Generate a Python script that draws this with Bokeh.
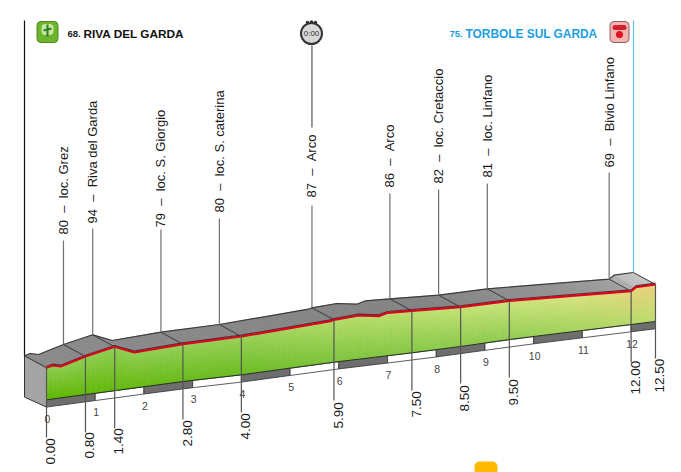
import math
import numpy as np
from bokeh.plotting import figure
from bokeh.core.properties import value
from bokeh.embed import file_html
from bokeh.resources import INLINE

# ---- chart data ----
profile_km = [0, 0.12, 0.29, 0.80, 1.40, 1.80, 2.80, 4.00, 5.83, 5.90, 6.41, 6.82, 7.00, 7.50, 8.50, 9.50, 12.00, 12.10, 12.50]
profile_h = [104.7, 107, 106, 116, 125.7, 120, 128.3, 136, 151.3, 152.7, 157, 156.3, 159.7, 161.7, 165.3, 171.7, 181.3, 185.3, 188]
base_km = [0, 2.8, 4.0, 5.9, 7.5, 8.5, 9.5, 11.0, 12.5]
base_h = [72.7, 91, 97.7, 110.3, 119.7, 126, 133, 142, 151]
way_km = [0.80, 1.40, 2.80, 4.00, 5.90, 7.50, 8.50, 9.50, 12.00]
way_alt = [80, 94, 79, 80, 87, 86, 82, 81, 69]
way_name = ["loc. Grez", "Riva del Garda", "loc. S. Giorgio", "loc. S. caterina", "Arco", "Arco",
            "loc. Cretaccio", "loc. Linfano", "Bivio Linfano"]
km_marks = [0.00, 0.80, 1.40, 2.80, 4.00, 5.90, 7.50, 8.50, 9.50, 12.00, 12.50]
km_ticks = list(range(13))
start_no, start_name = "68.", "RIVA DEL GARDA"
end_no, end_name = "75.", "TORBOLE SUL GARDA"

# ---- layout ----
PX = 48.72
X0 = 46
W, H = 681, 472
OFF = 0
def kx(px):
    return (px - X0) / PX
def hy(py):
    return 472 - py
stem_top = [240, 228, 229, 218, 205, 193, 189, 183, 172]
label_bot = [234, 223, 227, 212, 197, 187, 183, 177, 167]
mark_len = [437, 432, 428, 419, 412, 400, 390, 383, 377, 362, 358]
mark_txt_bot = [464, 458, 454, 446, 439, 428, 417, 411, 405, 394, 392]
DK, DH = 22 / PX, 12     # depth offset of the back of the road slab
STRIP = 7.3

p = figure(width=W, height=H, x_range=(kx(OFF), kx(OFF + W)), y_range=(hy(OFF + H), hy(OFF)),
           output_backend="svg", toolbar_location=None, min_border=0,
           outline_line_color=None, background_fill_color="white", border_fill_color="white")
p.axis.visible = False
p.grid.visible = False

prof_k = np.array(profile_km, float)
prof_h = np.array(profile_h, float)
def front(k):
    return np.interp(k, prof_k, prof_h)
def base(k):
    return np.interp(k, base_km, base_h)
def hexmix(stops, k):
    ks = [s[0] for s in stops]
    r = np.interp(k, ks, [int(s[1][1:3], 16) for s in stops])
    g = np.interp(k, ks, [int(s[1][3:5], 16) for s in stops])
    b = np.interp(k, ks, [int(s[1][5:7], 16) for s in stops])
    return np.array([r, g, b])
def css(c):
    return "#%02x%02x%02x" % tuple(int(round(v)) for v in c)

# strip below the green area
for k in range(13):
    k1 = min(k + 1, 12.5)
    xs = [k, k1, k1, k]
    ys = [base(k), base(k1), base(k1) - STRIP, base(k) - STRIP]
    dark = k % 2 == 0
    p.patch(xs, ys, fill_color="#6e6e6e" if dark else "#ffffff", line_color="#333333", line_width=0.8)

# green gradient body
top_stops = [(0, "#8ccc50"), (4, "#98d058"), (6, "#b4dc68"), (9.5, "#cce47c"), (11, "#d8e27e"), (12.5, "#ead07c")]
bot_stops = [(0, "#5fb700"), (4, "#6abc20"), (6, "#7cc43c"), (9.5, "#90cc50"), (12.5, "#bcdc6c")]
edges = sorted(set(np.round(np.arange(0, 12.5, 0.1), 3).tolist() + [12.5] + profile_km))
NB = 14
gx, gy, gc = [], [], []
for a, b in zip(edges[:-1], edges[1:]):
    m = (a + b) / 2
    ct, cb = hexmix(top_stops, m), hexmix(bot_stops, m)
    for i in range(NB):
        f0, f1 = i / NB, (i + 1) / NB
        ya = [front(a) + (base(a) - front(a)) * f for f in (f0, f1)]
        yb = [front(b) + (base(b) - front(b)) * f for f in (f0, f1)]
        gx.append([a, b, b, a])
        gy.append([ya[0], yb[0], yb[1], ya[1]])
        gc.append(css(ct + (cb - ct) * (f0 + f1) / 2))
p.patches(gx, gy, fill_color=gc, line_color=gc, line_width=0.6)

# grey slab on top of the profile
slab_stops = [(0, "#8a8a8a"), (8, "#828282"), (11, "#949494"), (12.0, "#a0a0a0"), (12.1, "#bcbcbc"), (12.5, "#c4c4c4")]
sx, sy, sc = [], [], []
for a, b in zip(edges[:-1], edges[1:]):
    sx.append([a, b, b - DK, a - DK])
    sy.append([front(a), front(b), front(b) + DH, front(a) + DH])
    sc.append(css(hexmix(slab_stops, (a + b) / 2)))
p.patches(sx, sy, fill_color=sc, line_color=sc, line_width=0.6)

# left side face
p.patch([0, -DK, -DK, 0], [front(0), front(0) + DH, base(0) - STRIP + 10, base(0) - STRIP],
        fill_color="#a4a4a4", line_color="#333333", line_width=1)

# outlines
p.line((prof_k - DK).tolist(), (prof_h + DH).tolist(), line_color="#3c3c3c", line_width=1.2)
p.line([12.5, 12.5 - DK], [front(12.5), front(12.5) + DH], line_color="#3c3c3c", line_width=1)
for k in way_km:
    p.line([k, k - DK], [front(k), front(k) + DH], line_color="#3c3c3c", line_width=1)
p.line(base_km, base_h, line_color="#2c2c2c", line_width=1)
p.line(prof_k.tolist(), (prof_h + 1.3).tolist(), line_color="#4a3030", line_width=1.2)
p.line(prof_k.tolist(), prof_h.tolist(), line_color="#dc0420", line_width=2.2)

# start and finish verticals
p.line([-DK, -DK], [front(0) + DH, hy(20)], line_color="#111111", line_width=1.2)
p.line([12.5 - DK, 12.5 - DK], [front(12.5) + DH, hy(20)], line_color="#6cc0ec", line_width=1.2)

# waypoint stems and labels
NARROW = value("Liberation Sans")
for k, alt, name, st, lb in zip(way_km, way_alt, way_name, stem_top, label_bot):
    x = k - DK
    p.line([x, x], [front(k) + DH, hy(st)], line_color="#77706c", line_width=1.2)
    p.text([x], [hy(lb)], text=[f"{alt}  –  {name}".replace(" ", "\u00a0")], angle=math.pi / 2,
           text_font=NARROW, text_font_size="13px", text_color="#1a1a1a",
           text_align="left", text_baseline="middle")
arco_x = 5.90 - DK
p.line([arco_x, arco_x], [hy(127), hy(45)], line_color="#555555", line_width=1.2)

# km marks
for k, e, tb in zip(km_marks, mark_len, mark_txt_bot):
    p.line([k, k], [front(k), hy(e)], line_color="#555555", line_width=1.2)
    p.text([k + 4.2 / PX], [hy(tb)], text=[f"{k:.2f}"], angle=math.pi / 2, text_font=NARROW,
           text_font_size="13.5px", text_color="#1a1a1a", text_align="left", text_baseline="middle")

# km tick numbers
for k in km_ticks:
    p.text([k + 0.02], [base(k) - 19], text=[str(k)], text_font=NARROW, text_font_size="10.5px",
           text_color="#444444", text_align="center", text_baseline="middle")

# header
SANS = value("Liberation Sans")
p.text([kx(67)], [hy(33)], text=[start_no], text_font=SANS, text_font_style="bold", text_font_size="9.5px",
       text_color="#222222", text_baseline="middle")
p.text([kx(83)], [hy(33)], text=[start_name], text_font=SANS, text_font_style="bold", text_font_size="11.8px",
       text_color="#111111", text_baseline="middle")
p.text([kx(449)], [hy(33)], text=[end_no], text_font=SANS, text_font_style="bold", text_font_size="9.5px",
       text_color="#1a9ee0", text_baseline="middle")
p.text([kx(465)], [hy(33)], text=[end_name], text_font=SANS, text_font_style="bold", text_font_size="11.9px",
       text_color="#1a9ee0", text_baseline="middle")

# icons
def rrect(cx, cy, w, h, **kw):
    p.rect([kx(cx)], [hy(cy)], width=w / PX, height=h, border_radius=4, **kw)
rrect(47, 31.5, 21, 21, fill_color="#6fb52c", line_color="#4e8a22", line_width=1)
rrect(47, 29, 12, 11, fill_color="#c9e6a0", line_color=None)
p.line([kx(47), kx(47)], [hy(24), hy(36)], line_color="#2c7a2c", line_width=2)
p.line([kx(43), kx(51)], [hy(30), hy(28)], line_color="#2c7a2c", line_width=2)
rrect(619, 31.5, 19, 21, fill_color="#f4b4b4", line_color="#8a6060", line_width=1)
rrect(619, 27, 14, 5, fill_color="#d4202a", line_color=None)
rrect(619, 34, 7, 7, fill_color="#e0101c", line_color=None)
# stopwatch
p.scatter([kx(307), kx(311), kx(315)], [hy(22), hy(21.5), hy(22)], size=3.5, marker="circle", fill_color="#333333", line_color=None)
p.scatter([kx(311)], [hy(33)], size=21, marker="circle", fill_color="#d8d8d8", line_color="#333333", line_width=2)
p.text([kx(311)], [hy(33)], text=["0:00"], text_font=NARROW, text_font_size="8px", text_color="#333333",
       text_align="center", text_baseline="middle")
# yellow blob at the lower edge
p.rect([kx(485.5)], [hy(468)], width=23 / PX, height=14, border_radius=5, fill_color="#ffba00", line_color=None)

open("out.html", "w").write(file_html(p, INLINE))
